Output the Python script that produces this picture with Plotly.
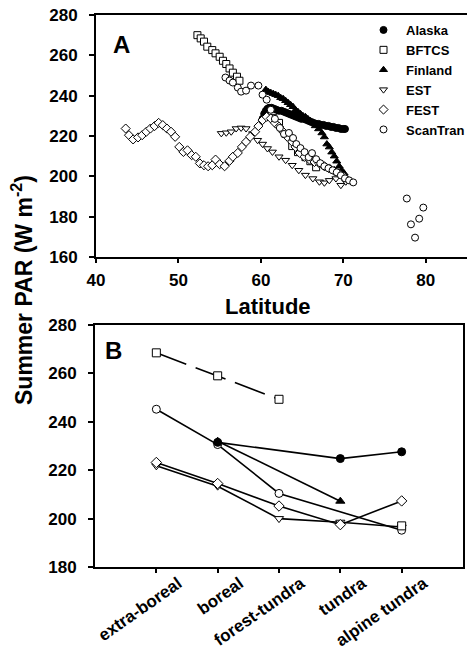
import plotly.graph_objects as go

W, H = 467, 648

# ---------------- Panel A data (latitude, summer PAR) ----------------
alaska_lat = [60.2, 60.4, 60.6, 60.8, 61.0, 61.3, 61.6, 61.9, 62.2, 62.5, 62.8, 63.1, 63.4, 63.7,
              64.0, 64.3, 64.6, 64.9, 65.2, 65.5, 65.8, 66.1, 66.4, 66.7, 67.0, 67.3, 67.6, 67.9,
              68.2, 68.5, 68.8, 69.1, 69.4, 69.7, 70.0, 70.2]
alaska_par = [228.5, 231, 232.5, 233.5, 234, 234, 233.5, 233, 232.5, 232.5, 232, 231.5, 231, 230.5,
              230, 229.5, 229, 228.5, 228.5, 228, 227.5, 227, 226.5, 226, 226, 225.5, 225.5, 225,
              225, 224.5, 224.5, 224, 224, 223.5, 223.5, 223.5]

bftcs_lat = [52.3, 52.7, 53.1, 53.5, 54.1, 54.5, 55.0, 55.4, 55.8, 56.2, 56.6, 57.1, 57.4,
             61.5, 62.2, 63.0, 63.8, 64.5, 65.4, 66.0, 66.7]
bftcs_par = [270, 268.4, 266.8, 264.3, 262.6, 261, 259.3, 257.3, 255.7, 253.5, 251.4, 249.4, 247.4,
             229, 226.5, 221, 215, 212, 209.5, 207.5, 204.5]

finland_lat = [60.6, 60.9, 61.2, 61.5, 61.8, 62.1, 62.4, 62.7, 63.0, 63.3, 63.6, 63.9, 64.2, 64.5,
               64.8, 65.1, 65.4, 65.7, 66.0, 66.3, 66.6, 67.0, 67.4, 67.7, 68.0, 68.3, 68.6, 68.9,
               69.2, 69.5, 69.8, 70.1]
finland_par = [243, 242, 241.5, 241, 240.5, 240, 239, 238.5, 237.5, 236.5, 235.5, 234.5, 233, 232,
               231, 230, 229.5, 228.5, 227.5, 226.5, 225, 223.5, 221.5, 219.5, 216, 214.5, 212, 210,
               207.5, 205, 203, 201.5]

est_lat = [55.2, 55.8, 56.4, 57.0, 57.6, 58.2, 59.0, 59.6, 60.2, 60.8, 61.4, 62.2, 63.0, 63.8,
           64.6, 65.4, 66.3, 67.1, 67.7, 68.3, 69.1, 69.7, 70.3]
est_par = [221.3, 221.6, 222.1, 223.7, 224, 223.7, 221.2, 217.9, 216, 213.8, 212.1, 209.7, 208, 205.5,
           203, 200.6, 198.9, 197.3, 196.8, 198, 198.9, 195.6, 197.3]

fest_lat = [43.6, 44.0, 44.5, 45.1, 45.6, 46.1, 46.6, 47.1, 47.6, 48.1, 48.6, 49.1, 49.6, 50.1,
            50.6, 51.1, 51.6, 52.1, 52.6, 53.1, 53.6, 54.1, 54.5, 55.0, 55.6, 56.2, 56.6, 57.2,
            57.7, 58.2, 58.7, 59.3, 59.7, 60.2, 60.7, 61.2, 61.7, 62.2, 62.7, 63.2, 63.8, 64.2,
            64.7, 65.3, 65.9, 66.5, 67.1, 67.7, 68.3, 68.9, 69.5, 70.1]
fest_par = [223.7, 220.4, 218.3, 219.3, 220.4, 222.1, 223.7, 224.9, 226.5, 225.4, 223.7, 222.1, 219.6, 214.6,
            212.1, 212.9, 210.5, 209.7, 206.4, 205.5, 205.0, 205.5, 208.3, 206, 205.0, 207.7, 209.7, 211.6,
            214.6, 217.1, 219.6, 222.1, 224.9, 227.9, 229.5, 228.7, 226.5, 224.6, 222.1, 219.6, 217.1, 214.6,
            211.6, 209.7, 208.3, 207.1, 206.4, 205.0, 203.9, 202.7, 201.4, 199.7]

scantran_lat = [55.7, 56.2, 56.6, 57.2, 57.6, 58.2, 58.8, 59.7, 60.2, 60.7, 61.2, 61.7, 62.3, 62.8,
                63.4, 63.9, 64.3, 64.8, 65.3, 65.8, 66.2, 66.7, 67.2, 67.7, 68.2, 68.7, 69.2, 69.7,
                70.2, 70.7, 71.2, 77.7, 78.2, 78.7, 79.2, 79.7]
scantran_par = [249, 247.5, 246.5, 244, 242, 242.5, 245, 245, 240.5, 238, 233, 228.5, 224, 221,
                221.5, 219, 216, 214, 212, 209.5, 211.5, 208.5, 206.5, 205, 204, 203, 202, 200.5,
                199, 198, 197, 189, 176.2, 169.6, 179, 184.5]

# ---------------- Panel B data (vegetation zone means) ----------------
zones = ["extra-boreal", "boreal", "forest-tundra", "tundra", "alpine tundra"]
b_alaska = [None, 231.5, None, 224.8, 227.6]
b_bftcs = [268.5, 259.0, 249.3, None, 197.0]
b_finland = [None, 232.0, None, 207.2, None]
b_est = [221.8, 213.4, 200.0, 198.5, 196.5]
b_fest = [223.2, 214.5, 205.2, 197.5, 207.3]
b_scantran = [245.2, 230.6, 210.4, None, 195.2]

tick_a_x = [40, 50, 60, 70, 80]
tick_a_y = [160, 180, 200, 220, 240, 260, 280]
tick_b_y = [180, 200, 220, 240, 260, 280]

FONT = "Liberation Sans, Arial, sans-serif"
BLACK = "black"

def mk(symbol, filled):
    return dict(symbol=symbol, size=7,
                color=BLACK if filled else "white",
                line=dict(color=BLACK, width=1))

series_a = [
    ("Alaska", alaska_lat, alaska_par, "circle", True),
    ("BFTCS", bftcs_lat, bftcs_par, "square", False),
    ("Finland", finland_lat, finland_par, "triangle-up", True),
    ("EST", est_lat, est_par, "triangle-down", False),
    ("FEST", fest_lat, fest_par, "diamond", False),
    ("ScanTran", scantran_lat, scantran_par, "circle", False),
]

fig = go.Figure()

for rank, (name, xs, ys, sym, filled) in enumerate(series_a):
    fig.add_trace(go.Scatter(x=xs, y=ys, mode="markers", name=name,
                             marker=mk(sym, filled), xaxis="x", yaxis="y",
                             legendrank=rank + 1))

series_b = [
    ("EST", b_est, "triangle-down", False, "solid", True),
    ("FEST", b_fest, "diamond", False, "solid", True),
    ("ScanTran", b_scantran, "circle", False, "solid", True),
    ("Finland", b_finland, "triangle-up", True, "solid", True),
    ("Alaska", b_alaska, "circle", True, "solid", True),
    ("BFTCS", b_bftcs, "square", False, "32px,10px", False),
]
for name, ys, sym, filled, dash, cg in series_b:
    fig.add_trace(go.Scatter(x=list(range(len(zones))), y=ys, mode="lines+markers",
                             name=name, showlegend=False, connectgaps=cg,
                             line=dict(color=BLACK, width=1.6, dash=dash),
                             marker=dict(symbol=sym, size=8,
                                         color=BLACK if filled else "white",
                                         line=dict(color=BLACK, width=1)),
                             xaxis="x2", yaxis="y2"))

tickfont = dict(family=FONT, size=17, color=BLACK, weight="bold")
axis_common = dict(showline=True, linecolor=BLACK, linewidth=2, ticks="outside",
                   tickcolor=BLACK, tickwidth=1.5, showgrid=False, zeroline=False,
                   automargin=False)

fig.update_layout(
    width=W, height=H,
    margin=dict(l=0, r=0, t=0, b=0, pad=0, autoexpand=False),
    paper_bgcolor="white", plot_bgcolor="white",
    font=dict(family=FONT, color=BLACK),
    xaxis=dict(domain=[96 / W, 1.0], range=[40, 85], tickvals=tick_a_x,
               anchor="y", mirror=True, ticklen=4, ticklabelstandoff=3,
               tickfont=tickfont, **axis_common),
    yaxis=dict(domain=[1 - 257 / H, 1 - 15 / H], range=[160, 280], tickvals=tick_a_y,
               anchor="x", ticklen=5, ticklabelstandoff=8, tickfont=tickfont, **axis_common),
    xaxis2=dict(domain=[95 / W, 463 / W], range=[-1, 5], tickvals=list(range(len(zones))),
                ticktext=zones, tickangle=-35, anchor="y2", mirror=True, ticklen=4,
                ticklabelstandoff=-6, ticklabelshift=22,
                tickfont=dict(family=FONT, size=17, color=BLACK, weight="bold"),
                **axis_common),
    yaxis2=dict(domain=[1 - 567 / H, 1 - 325 / H], range=[180, 280], tickvals=tick_b_y,
                anchor="x2", mirror=True, ticklen=5, ticklabelstandoff=8,
                tickfont=tickfont, **axis_common),
    legend=dict(x=361 / W, y=1 - 15 / H, xanchor="left", yanchor="top",
                bgcolor="rgba(0,0,0,0)", borderwidth=0, tracegroupgap=0,
                itemwidth=35,
                font=dict(family=FONT, size=13, color=BLACK, weight="bold")),
    showlegend=True,
)

fig.add_annotation(text="A", x=111 / W, y=1 - 45 / H, xref="paper", yref="paper",
                   showarrow=False, xanchor="left", yanchor="middle",
                   font=dict(family=FONT, size=24, color=BLACK, weight="bold"))
fig.add_annotation(text="B", x=103 / W, y=1 - 350 / H, xref="paper", yref="paper",
                   showarrow=False, xanchor="left", yanchor="middle",
                   font=dict(family=FONT, size=24, color=BLACK, weight="bold"))
fig.add_annotation(text="Latitude", x=268 / W, y=1 - 306 / H, xref="paper", yref="paper",
                   showarrow=False, xanchor="center", yanchor="middle",
                   font=dict(family=FONT, size=22, color=BLACK, weight="bold"))
fig.add_annotation(text="Summer PAR (W m<sup>-2</sup>)", x=22 / W, y=1 - 290 / H,
                   xref="paper", yref="paper", showarrow=False, textangle=-90,
                   xanchor="center", yanchor="middle",
                   font=dict(family=FONT, size=23, color=BLACK, weight="bold"))

fig.write_html("out.html", config={"displayModeBar": False},
               post_script="document.body.style.margin='0';document.body.style.overflow='hidden';")
